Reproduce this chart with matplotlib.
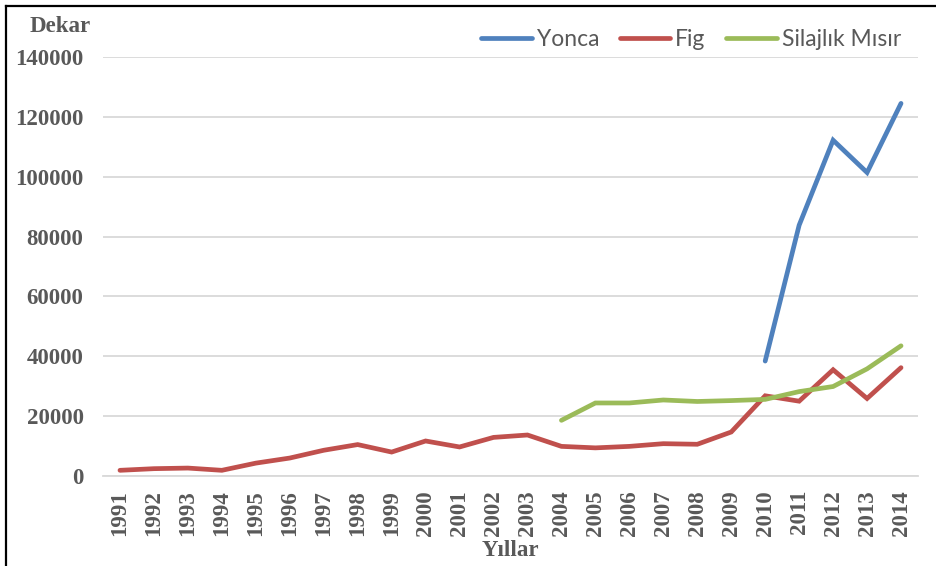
import numpy as np
import matplotlib
matplotlib.use("Agg")
import matplotlib.pyplot as plt
from matplotlib.lines import Line2D

# Ekim alanları (dekar), 1991-2014
years = list(range(1991, 2015))
yonca = [np.nan] * 19 + [38400, 83800, 112200, 101400, 124500]
fig_vals = [1900, 2450, 2650, 1900, 4300, 6000, 8600, 10500, 8000, 11700,
            9700, 12900, 13700, 9900, 9400, 9900, 10800, 10600, 14700,
            26800, 25000, 35500, 25900, 36200]
silaj = [np.nan] * 13 + [18600, 24400, 24400, 25400, 24900, 25200,
                         25600, 28200, 29900, 35800, 43500]

series_names = ["Yonca", "Fig", "Silajlık Mısır"]
series_colors = ["#4F81BD", "#C0504D", "#9BBB59"]
yticks = list(range(0, 140001, 20000))

text_color = "#595959"
serif = ["Liberation Serif", "DejaVu Serif"]

fig = plt.figure(figsize=(9.37, 5.66), dpi=100)
ax = fig.add_axes([103 / 937, 1 - 476 / 566, 815 / 937, 419 / 566])

x = np.arange(len(years))
for vals, name, color in zip([yonca, fig_vals, silaj], series_names, series_colors):
    ax.plot(x, vals, color=color, lw=3.4, solid_capstyle="round",
            solid_joinstyle="miter", label=name, zorder=3)

ax.set_xlim(-0.5, len(years) - 0.5)
ax.set_ylim(0, 140000)
ax.set_yticks(yticks)
ax.set_yticklabels([str(v) for v in yticks], fontfamily=serif,
                   fontweight="bold", fontsize=16.5, color=text_color)
ax.set_xticks(x)
ax.set_xticklabels([str(y) for y in years], rotation=90, fontfamily=serif,
                   fontweight="bold", fontsize=16.5, color=text_color)
ax.tick_params(axis="y", length=0, pad=14)
ax.tick_params(axis="x", length=0, pad=10)
ax.grid(axis="y", color="#D9D9D9", lw=1.3, zorder=0)
for s in ["left", "right", "top"]:
    ax.spines[s].set_visible(False)
ax.spines["bottom"].set_color("#D9D9D9")
ax.spines["bottom"].set_linewidth(1.3)

fig.text(60 / 937, 1 - 27 / 566, "Dekar", fontfamily=serif, fontweight="bold",
         fontsize=16.5, color=text_color, ha="center", va="center")
fig.text(510 / 937, 1 - 551 / 566, "Yıllar", fontfamily=serif, fontweight="bold",
         fontsize=16.5, color=text_color, ha="center", va="center")

leg = fig.legend(loc="center right", bbox_to_anchor=(901 / 937, 1 - 40 / 566),
                 ncol=3, frameon=False, borderpad=0, borderaxespad=0,
                 handlelength=2.2, handletextpad=0.22, columnspacing=0.9,
                 prop={"family": ["Lato", "DejaVu Sans"], "size": 16.5})
for t in leg.get_texts():
    t.set_color(text_color)

# frame lines on the left and top edges
fig.add_artist(Line2D([6 / 937, 6 / 937], [0, 1 - 6 / 566], color="black",
                      lw=1.6, transform=fig.transFigure))
fig.add_artist(Line2D([6 / 937, 1], [1 - 6 / 566, 1 - 6 / 566], color="black",
                      lw=1.6, transform=fig.transFigure))

fig.savefig("out.png", dpi=100)
